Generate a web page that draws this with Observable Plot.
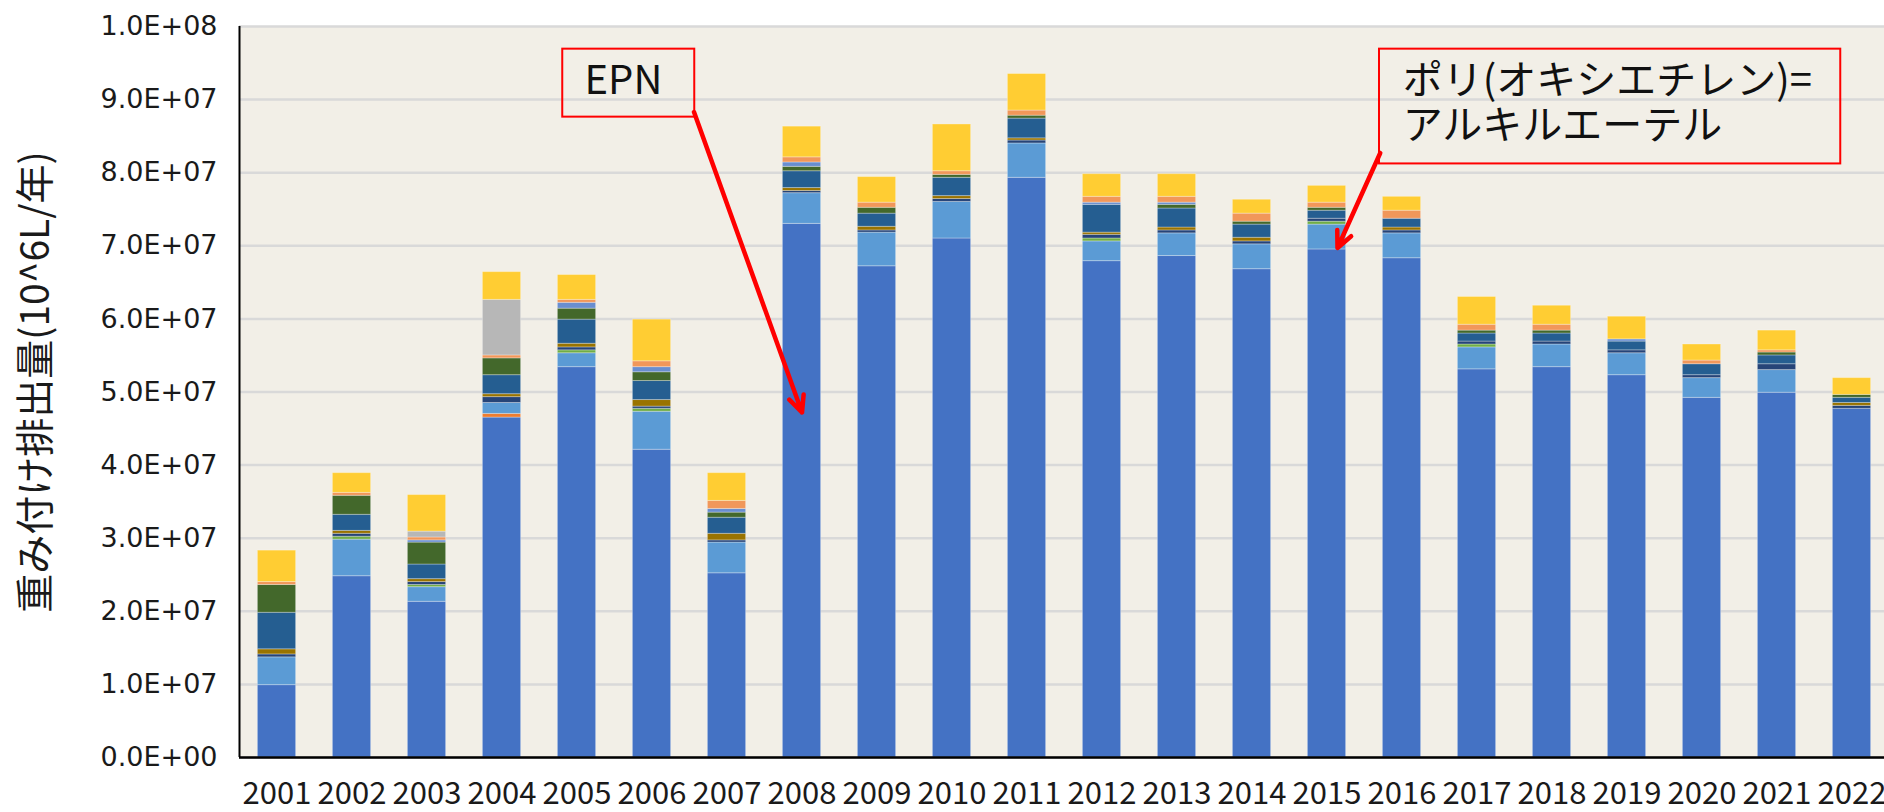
<!DOCTYPE html>
<html>
<head>
<meta charset="utf-8">
<script src="https://cdn.jsdelivr.net/npm/d3@7"></script>
<script src="https://cdn.jsdelivr.net/npm/@observablehq/plot@0.6"></script>
<style>
  html, body { margin: 0; padding: 0; background: #ffffff; overflow: hidden; }
  #chart svg { display: block; }
</style>
</head>
<body>
<div id="chart"></div>
<script>
// ---------- data (values in units of 10^7) ----------
const UNIT = 1e7;
const years = [2001, 2002, 2003, 2004, 2005, 2006, 2007, 2008, 2009, 2010, 2011,
               2012, 2013, 2014, 2015, 2016, 2017, 2018, 2019, 2020, 2021, 2022];

const seriesNames = ["EPN", "系列2", "ポリ(オキシエチレン)=アルキルエーテル", "系列6", "系列7", "系列10",
                     "系列11", "系列12", "系列13", "系列14", "系列15", "系列16"];
const seriesColors = ["#4472C4", "#ED7D31", "#5B9BD5", "#70AD47", "#264478", "#997300",
                      "#255E91", "#43682B", "#698ED0", "#F1975A", "#B7B7B7", "#FFCD33"];

const s1  = [0.99, 2.48, 2.13, 4.65, 5.34, 4.21, 2.52, 7.30, 6.72, 7.10, 7.93, 6.79, 6.86, 6.68, 6.95, 6.83, 5.31, 5.34, 5.23, 4.92, 4.99, 4.77];
const s2  = [0, 0, 0, 0.05, 0, 0, 0, 0, 0, 0, 0, 0, 0, 0, 0, 0, 0, 0, 0, 0, 0, 0];
const s5  = [0.38, 0.50, 0.20, 0.15, 0.19, 0.52, 0.42, 0.42, 0.46, 0.50, 0.47, 0.27, 0.31, 0.34, 0.34, 0.34, 0.30, 0.31, 0.30, 0.27, 0.31, 0];
const s6  = [0, 0.04, 0.03, 0, 0.04, 0.04, 0, 0, 0, 0, 0, 0.04, 0, 0, 0.04, 0, 0.04, 0, 0, 0, 0, 0];
const s7  = [0.04, 0.04, 0.04, 0.08, 0.04, 0.03, 0.03, 0.03, 0.03, 0.04, 0.04, 0.05, 0.04, 0.04, 0.04, 0.04, 0.04, 0.04, 0.04, 0.04, 0.08, 0.04];
const s10 = [0.07, 0.04, 0.04, 0.04, 0.05, 0.09, 0.09, 0.04, 0.05, 0.04, 0.03, 0.03, 0.04, 0.05, 0, 0.04, 0, 0, 0, 0, 0, 0.04];
const s11 = [0.50, 0.22, 0.20, 0.26, 0.33, 0.26, 0.22, 0.23, 0.18, 0.25, 0.27, 0.38, 0.26, 0.18, 0.11, 0.12, 0.11, 0.11, 0.12, 0.15, 0.12, 0.07];
const s12 = [0.38, 0.26, 0.30, 0.23, 0.15, 0.12, 0.07, 0.06, 0.08, 0.04, 0.04, 0, 0.05, 0.04, 0.04, 0, 0.04, 0.04, 0, 0, 0.04, 0.04];
const s13 = [0, 0, 0.03, 0, 0.08, 0.07, 0.05, 0.06, 0, 0, 0, 0.03, 0.03, 0, 0, 0, 0, 0, 0.03, 0, 0, 0];
const s14 = [0.04, 0.04, 0.04, 0.04, 0.04, 0.08, 0.11, 0.07, 0.07, 0.05, 0.07, 0.08, 0.08, 0.11, 0.07, 0.11, 0.08, 0.08, 0, 0.05, 0.03, 0];
const s15 = [0, 0, 0.08, 0.76, 0, 0, 0, 0, 0, 0, 0, 0, 0, 0, 0, 0, 0, 0, 0, 0, 0, 0];
const s16 = [0.43, 0.27, 0.50, 0.38, 0.34, 0.57, 0.38, 0.42, 0.35, 0.64, 0.50, 0.31, 0.31, 0.19, 0.23, 0.19, 0.38, 0.26, 0.31, 0.22, 0.27, 0.23];
const seriesValues = [s1, s2, s5, s6, s7, s10, s11, s12, s13, s14, s15, s16];

const yTicks = [0, 1e7, 2e7, 3e7, 4e7, 5e7, 6e7, 7e7, 8e7, 9e7, 1e8];
const yTitle = "重み付け排出量(10^6L/年)";

// annotations (data coordinates: x in years, y in L/年)
const noteBoxes = [
  {x1: 2004.81, x2: 2006.57, y1: 9.69e7, y2: 8.76e7},
  {x1: 2015.70, x2: 2021.85, y1: 9.69e7, y2: 8.12e7}
];
const noteTexts = [
  {x: 2005.10, y: 9.08e7, text: "EPN"},
  {x: 2016.01, y: 8.46e7, text: "ポリ(オキシエチレン)=\nアルキルエーテル"}
];
const noteArrows = [
  {x1: 2006.56, y1: 8.83e7, x2: 2008.0, y2: 4.72e7},
  {x1: 2015.71, y1: 8.27e7, x2: 2015.14, y2: 6.97e7}
];

// ---------- build table ----------
const rows = [];
seriesNames.forEach((name, i) => {
  years.forEach((yr, j) => {
    const v = seriesValues[i][j];
    if (v > 0) rows.push({year: yr, series: name, value: v * UNIT});
  });
});

const HALF = 0.255;
const fmtE = d => {
  const [m, e] = d.toExponential(1).split("e");
  const sign = e[0] === "-" ? "-" : "+";
  const n = e.replace(/[+-]/, "").padStart(2, "0");
  return `${m}E${sign}${n}`;
};

const jp = "'Noto Sans CJK JP', 'Noto Sans', sans-serif";

const chart = Plot.plot({
  width: 1884,
  height: 812,
  marginLeft: 239,
  marginRight: -5,
  marginTop: 26,
  marginBottom: 55,
  style: {background: "#ffffff", fontFamily: "'DejaVu Sans', sans-serif", fontSize: "27px", color: "#1a1a1a"},
  x: {domain: [2000.5, 2022.5]},
  y: {domain: [0, 1e8]},
  color: {domain: seriesNames, range: seriesColors},
  marks: [
    Plot.frame({fill: "#f2efe7", stroke: null}),
    Plot.ruleY(yTicks, {stroke: "#d9d9d9", strokeWidth: 2.5}),
    Plot.rectY(rows, {
      x1: d => d.year - HALF,
      x2: d => d.year + HALF,
      y: "value",
      fill: "series",
      stroke: "#ffffff",
      strokeOpacity: 0.3,
      strokeWidth: 1
    }),
    Plot.ruleX([2000.5], {stroke: "#000", strokeWidth: 2}),
    Plot.ruleY([0], {stroke: "#000", strokeWidth: 2.5}),
    Plot.axisY({ticks: yTicks, tickFormat: fmtE, tickSize: 0, tickPadding: 22, label: null,
                fontFamily: "'DejaVu Sans', sans-serif", fontSize: 27}),
    Plot.axisX({ticks: years, tickFormat: d => String(d), tickSize: 0, tickPadding: 24, label: null,
                fontFamily: jp, fontSize: 31}),
    Plot.text([yTitle], {frameAnchor: "left", dx: -203, dy: -10, rotate: -90, text: d => d,
                         textAnchor: "middle", lineAnchor: "middle",
                         fontFamily: jp, fontSize: 39, fill: "#1a1a1a"}),
    Plot.rect(noteBoxes, {x1: "x1", x2: "x2", y1: "y1", y2: "y2", fill: "none", stroke: "#ff0000", strokeWidth: 2}),
    Plot.text(noteTexts, {x: "x", y: "y", text: "text", textAnchor: "start", lineAnchor: "bottom",
                          lineHeight: 1.13, fontFamily: jp, fontSize: 40, fill: "#111"}),
    Plot.arrow(noteArrows, {x1: "x1", y1: "y1", x2: "x2", y2: "y2", stroke: "#ff0000",
                            strokeWidth: 4.5, headLength: 6, headAngle: 50})
  ]
});
document.getElementById("chart").appendChild(chart);
</script>
</body>
</html>
